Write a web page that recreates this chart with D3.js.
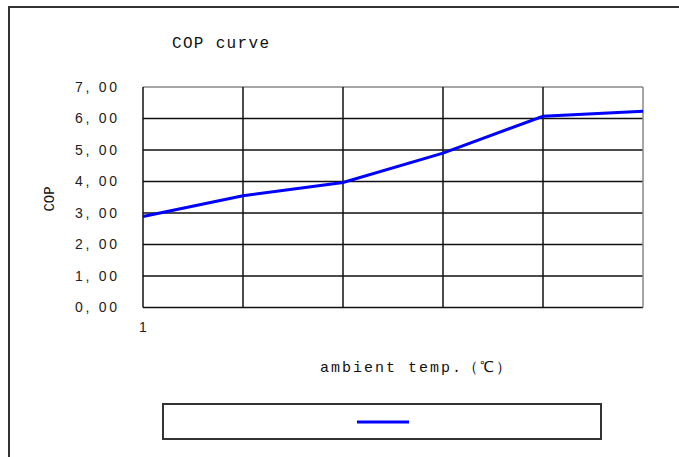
<!DOCTYPE html>
<html><head><meta charset="utf-8">
<script src="https://cdn.jsdelivr.net/npm/d3@7"></script>
<style>body{margin:0;background:#fff}svg{display:block}</style>
</head><body>
<script>
const categories = [1, 2, 3, 4, 5, 6];
const copValues = [2.89, 3.55, 3.97, 4.90, 6.07, 6.23];
const yTicks = [0, 1, 2, 3, 4, 5, 6, 7];
const xTickLabels = ["1"];
const title = "COP curve";
const yTitle = "COP";
const xTitle = "ambient temp.（℃）";

const W = 679, H = 457;
const svg = d3.select("body").append("svg").attr("width", W).attr("height", H);
const pLeft = 143, pRight = 643, pTop = 87, pBottom = 307.5;

// outer frame
svg.append("rect").attr("x", 9).attr("y", 7).attr("width", 700).attr("height", 500)
  .attr("fill", "none").attr("stroke", "#333").attr("stroke-width", 2);

const x = d3.scaleLinear().domain([1, 6]).range([pLeft, pRight]);
const y = d3.scaleLinear().domain([0, 7]).range([pBottom, pTop]);

// horizontal gridlines
svg.append("g").selectAll("line").data(yTicks).join("line")
  .attr("x1", pLeft).attr("x2", pRight)
  .attr("y1", d => y(d)).attr("y2", d => y(d))
  .attr("stroke", d => d === 7 ? "#888" : "#111").attr("stroke-width", 1.5);
// vertical gridlines
svg.append("g").selectAll("line").data(categories).join("line")
  .attr("y1", pTop).attr("y2", pBottom)
  .attr("x1", d => x(d)).attr("x2", d => x(d))
  .attr("stroke", d => d === 6 ? "#888" : "#111").attr("stroke-width", 1.5);

// y labels
const fmt = v => d3.format(".2f")(v).replace(".", ", ");
svg.append("g").selectAll("text").data(yTicks).join("text")
  .attr("x", 117).attr("y", d => y(d)).attr("dy", "0.35em")
  .attr("text-anchor", "end")
  .attr("font-family", "Liberation Sans, Arial, sans-serif").attr("font-size", 14)
  .attr("textLength", 42).attr("lengthAdjust", "spacing")
  .attr("fill", "#222").text(d => fmt(d));

// x tick label
svg.append("g").selectAll("text").data(xTickLabels).join("text")
  .attr("x", (d, i) => x(categories[i])).attr("y", 332)
  .attr("text-anchor", "middle")
  .attr("font-family", "Liberation Sans, Arial, sans-serif").attr("font-size", 14)
  .attr("fill", "#222").text(d => d);

// line
svg.append("path").datum(copValues)
  .attr("fill", "none").attr("stroke", "#0000ff").attr("stroke-width", 3)
  .attr("d", d3.line().x((d, i) => x(categories[i])).y(d => y(d)));

// title
svg.append("text").attr("x", 172).attr("y", 48)
  .attr("font-family", "Liberation Mono, monospace").attr("font-size", 16)
  .attr("textLength", 97).attr("fill", "#111").text(title);

// y title
svg.append("text").attr("transform", "translate(54,199) rotate(-90)")
  .attr("text-anchor", "middle")
  .attr("font-family", "Liberation Mono, monospace").attr("font-size", 14)
  .attr("fill", "#111").text(yTitle);

// x title
svg.append("text").attr("x", 320).attr("y", 372)
  .attr("font-family", "Liberation Mono, monospace").attr("font-size", 15)
  .attr("textLength", 191).attr("fill", "#111").text(xTitle);

// legend
svg.append("rect").attr("x", 163).attr("y", 404).attr("width", 438).attr("height", 35)
  .attr("fill", "none").attr("stroke", "#333").attr("stroke-width", 2);
svg.append("line").attr("x1", 357).attr("x2", 409).attr("y1", 422).attr("y2", 422)
  .attr("stroke", "#0000ff").attr("stroke-width", 3);
</script>
</body></html>
